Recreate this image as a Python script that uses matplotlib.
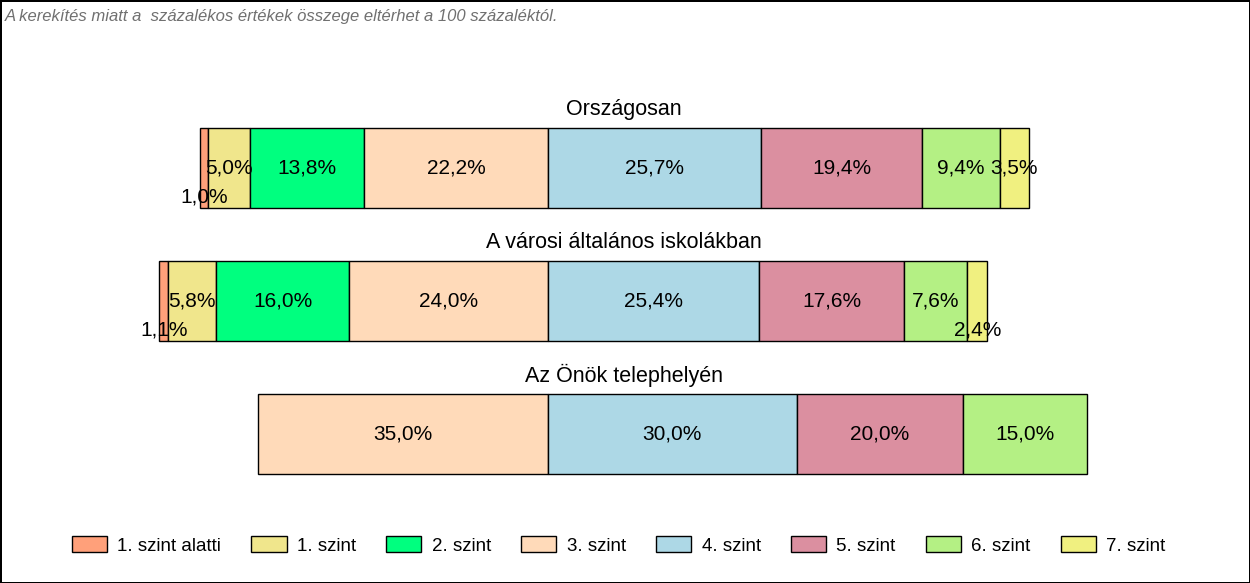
import numpy as np
import matplotlib.pyplot as plt

plt.rcParams['font.family'] = ['Liberation Sans', 'DejaVu Sans']

groups = ["Országosan", "A városi általános iskolákban", "Az Önök telephelyén"]
levels = ["1. szint alatti", "1. szint", "2. szint", "3. szint",
          "4. szint", "5. szint", "6. szint", "7. szint"]
colors = ["#FFA07A", "#F0E68C", "#00FF7F", "#FFDAB9",
          "#ADD8E6", "#DB8FA0", "#B4F084", "#F0F080"]

orszagos = [1.0, 5.0, 13.8, 22.2, 25.7, 19.4, 9.4, 3.5]
varosi = [1.1, 5.8, 16.0, 24.0, 25.4, 17.6, 7.6, 2.4]
telephely = [0.0, 0.0, 0.0, 35.0, 30.0, 20.0, 15.0, 0.0]
values = np.array([orszagos, varosi, telephely])

fig = plt.figure(figsize=(12.5, 5.83), dpi=100, linewidth=2, edgecolor="black")
ax = fig.add_axes([0, 0, 1, 1])
ax.set_xlim(-548 / 8.29, (1250 - 548) / 8.29)
ax.set_ylim(3.12, -1.263)
ax.axis("off")

bar_h = 0.6
for i, row in enumerate(values):
    left = -row[:4].sum()
    for j, v in enumerate(row):
        if v <= 0:
            continue
        ax.barh(i, v, left=left, height=bar_h, color=colors[j],
                edgecolor="black", linewidth=1)
        y = i + 0.22 if v < 3 else i
        ax.text(left + v / 2, y, f"{v:.1f}%".replace(".", ","),
                ha="center", va="center", fontsize=15)
        left += v
    ax.text(0.499, i - bar_h / 2 - 0.14, groups[i], transform=ax.get_yaxis_transform(),
            ha="center", va="center", fontsize=15.5)

handles = [plt.Rectangle((0, 0), 1, 1, facecolor=c, edgecolor="black", linewidth=1)
           for c in colors]
fig.legend(handles, levels, loc="center", bbox_to_anchor=(0.495, 0.065), ncol=8,
           frameon=False, fontsize=13.5, handlelength=1.87, handleheight=1.0,
           columnspacing=1.62, handletextpad=0.55)

fig.text(0.004, 0.985, "A kerekítés miatt a  százalékos értékek összege eltérhet a 100 százaléktól.",
         ha="left", va="top", fontsize=12, style="italic", color="#707070")

fig.savefig("out.png", dpi=100, edgecolor=fig.get_edgecolor())
